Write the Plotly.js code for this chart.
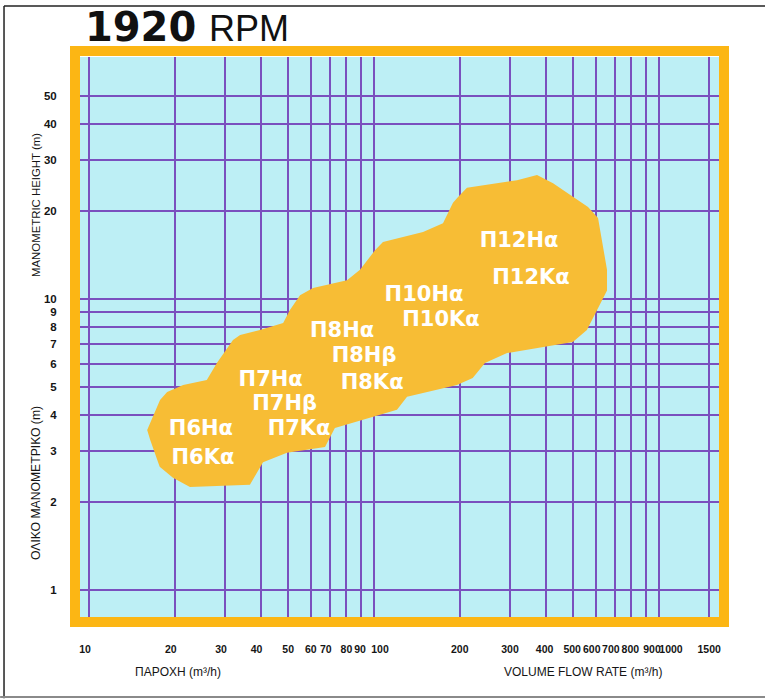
<!DOCTYPE html>
<html>
<head>
<meta charset="utf-8">
<script src="https://cdn.plot.ly/plotly-3.0.1.min.js"></script>
<style>html,body{margin:0;padding:0;background:#fff;}#chart{width:765px;height:699px;}</style>
</head>
<body>
<div id="chart"></div>
<script>
// Axis ticks (gridlines at every value)
const xTickVals = [10,20,30,40,50,60,70,80,90,100,200,300,400,500,600,700,800,900,1000,1500];
const yTickVals = [1,2,3,4,5,6,7,8,9,10,20,30,40,50];
// X tick labels, grouped by how the printed chart nudges them sideways
const xLabelsA = [10,20,30,40,70,600,700];
const xLabelsB = [50,60,80,200,300,1500];
const xLabelsC = [90,400,500,800];
const xLabelsD = [100,900];
const xLabelsE = [1000];

// Operating region outline (flow m3/h, head m)
const blobFlow = [16.0,17.75,18.8,21.4,25.9,28.1,32.0,33.9,39.8,48.0,50.7,55.0,61.1,80.4,89.3,100.8,107.5,148.6,174.6,189.3,197.2,211.9,317.6,373.2,424.8,563.6,611,657,657,558.5,498.5,293,245,222,195.5,130.6,120.4,72.9,67.3,49.5,40.8,39.2,36.7,22.6,19.7,17.7,16.4];
const blobHead = [3.55,4.50,4.79,5.06,5.27,6.03,7.23,7.52,7.82,8.27,9.17,10.3,10.9,11.6,12.6,14.7,15.7,17.0,18.2,21.4,22.4,24.1,25.6,26.7,25.0,20.7,19.0,12.6,10.7,7.83,7.12,6.52,6.03,5.35,5.06,4.61,4.16,3.60,3.10,2.96,2.75,2.58,2.30,2.26,2.43,2.65,3.28];

// Pump model labels
const labelText = ['Π6Ηα','Π6Κα','Π7Ηα','Π7Ηβ','Π7Κα','Π8Ηα','Π8Ηβ','Π8Κα','Π10Ηα','Π10Κα','Π12Ηα','Π12Κα'];
const labelFlow = [24.7,25.1,43.4,48.6,54.6,77.3,92.3,98.5,149.8,171.8,322.8,355.5];
const labelHead = [3.55,2.83,5.23,4.32,3.55,7.70,6.33,5.10,10.3,8.40,15.7,11.7];

const xTickFont = {family:'Liberation Sans, Arial', size:10.5, color:'#151515', weight:'bold'};
const yTickFont = {family:'Liberation Sans, Arial', size:11.5, color:'#151515', weight:'bold'};
const xRange = [0.9684, 3.2105];
const yRange = [-0.0928, 1.8316];

const traces = [
  {type:'scatter', mode:'lines', x:blobFlow, y:blobHead, fill:'toself', fillcolor:'#F7BD35',
   line:{width:0, color:'#F7BD35'}, hoverinfo:'skip', showlegend:false},
  {type:'scatter', mode:'text', x:labelFlow, y:labelHead, text:labelText,
   textfont:{family:'DejaVu Sans', size:21, color:'#ffffff', weight:'bold'},
   hoverinfo:'skip', showlegend:false}
];

const layout = {
  width:765, height:699,
  margin:{l:80, r:46, t:57, b:82},
  paper_bgcolor:'#ffffff', plot_bgcolor:'#BDEFF5',
  showlegend:false,
  title:{text:'<b>1920</b> <span style="font-family:Liberation Sans;font-size:36px">RPM</span>',
    font:{family:'DejaVu Sans', size:40, color:'#111111'},
    xref:'container', yref:'container', x:0.111, xanchor:'left', y:0.962, yanchor:'middle'},
  xaxis:{type:'log', range:xRange, tickvals:xTickVals, showticklabels:false, ticks:'',
    showgrid:true, gridcolor:'#7A50BE', gridwidth:2, zeroline:false, showline:false, fixedrange:true},
  yaxis:{type:'log', range:yRange, tickvals:yTickVals, ticktext:yTickVals.map(String),
    ticks:'outside', ticklen:20, tickcolor:'rgba(0,0,0,0)', tickfont:yTickFont,
    showgrid:true, gridcolor:'#7A50BE', gridwidth:2, zeroline:false, showline:false, fixedrange:true},
  shapes:[
    {type:'rect', xref:'paper', yref:'paper', x0:-5/639, x1:1+5/639, y0:-5/560, y1:1+6/560,
     line:{color:'#FCB614', width:10}, fillcolor:'rgba(0,0,0,0)', layer:'above'},
    {type:'line', xref:'paper', yref:'paper', x0:-0.1189, x1:1.08, y0:1.0911, y1:1.0911, line:{color:'#222', width:1.5}},
    {type:'line', xref:'paper', yref:'paper', x0:-0.1189, x1:-0.1189, y0:-0.145, y1:1.0911, line:{color:'#222', width:1.5}},
    {type:'line', xref:'paper', yref:'paper', x0:-0.125, x1:1.08, y0:-0.1429, y1:-0.1429, line:{color:'#8a8a8a', width:2}}
  ],
  annotations:[
    {text:'MANOMETRIC HEIGHT (m)', xref:'paper', yref:'paper', x:-44/639, y:(617-205)/560, textangle:-90,
     showarrow:false, xanchor:'center', yanchor:'middle', font:{family:'Liberation Sans, Arial', size:11.4, color:'#151515'}},
    {text:'ΟΛΙΚΟ ΜΑΝΟΜΕΤΡΙΚΟ (m)', xref:'paper', yref:'paper', x:-44/639, y:(617-483)/560, textangle:-90,
     showarrow:false, xanchor:'center', yanchor:'middle', font:{family:'Liberation Sans, Arial', size:12.2, color:'#151515'}},
    {text:'ΠΑΡΟΧΗ (m³/h)', xref:'paper', yref:'paper', x:(178-80)/639, y:(617-672)/560,
     showarrow:false, xanchor:'center', yanchor:'middle', font:{family:'Liberation Sans, Arial', size:12, color:'#151515'}},
    {text:'VOLUME FLOW RATE (m³/h)', xref:'paper', yref:'paper', x:(583-80)/639, y:(617-672)/560,
     showarrow:false, xanchor:'center', yanchor:'middle', font:{family:'Liberation Sans, Arial', size:12, color:'#151515'}}
  ]
};

// Label-only overlay x axes, each with its own sideways nudge
const groups = [[xLabelsA,-4],[xLabelsB,-2.5],[xLabelsC,-1],[xLabelsD,6],[xLabelsE,12]];
groups.forEach(([vals, shift], i) => {
  const n = i + 2;
  layout['xaxis' + n] = {type:'log', range:xRange, overlaying:'x', anchor:'y', side:'bottom',
    tickvals:vals, ticktext:vals.map(String), ticklabelshift:shift, tickangle:0,
    ticks:'outside', ticklen:22, tickcolor:'rgba(0,0,0,0)', tickfont:xTickFont,
    showgrid:false, zeroline:false, showline:false, fixedrange:true};
  traces.push({type:'scatter', mode:'markers', x:[vals[0]], y:[yTickVals[0]], xaxis:'x' + n,
    marker:{opacity:0, size:1}, hoverinfo:'skip', showlegend:false});
});

Plotly.newPlot('chart', traces, layout, {displayModeBar:false, staticPlot:true});
</script>
</body>
</html>
